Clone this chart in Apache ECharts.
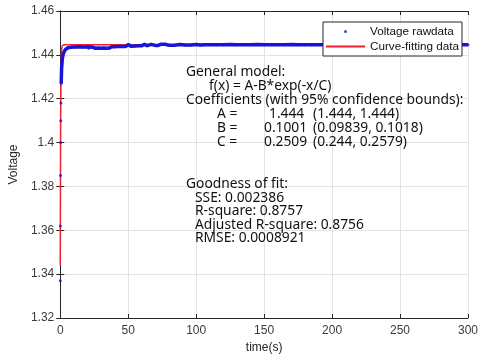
<!DOCTYPE html>
<html>
<head>
<meta charset="utf-8">
<script src="https://cdn.jsdelivr.net/npm/echarts@6/dist/echarts.min.js"></script>
<style>html,body{margin:0;padding:0;background:#fff}#c{width:481px;height:359px}</style>
</head>
<body>
<div id="c"></div>
<script>
// ---- data ----
const rawTime = [0, 0.1, 0.2, 0.3, 0.4, 0.5, 0.7, 1, 1.5, 2, 2.5, 3, 4, 5, 6, 8, 10, 12, 14, 16, 18, 20, 21, 22, 24, 25, 26, 28, 30, 32, 34, 36, 38, 40, 42, 45, 48, 50, 52, 55, 58, 60, 62, 64, 67, 70, 72, 74, 77, 80, 84, 88, 92, 96, 100, 103, 106, 110, 115, 120, 125, 130, 135, 140, 145, 150, 155, 160, 165, 170, 175, 180, 185, 190, 195, 200, 205, 210, 215, 220, 225, 230, 235, 240, 245, 250, 255, 260, 265, 270, 275, 280, 285, 290, 295, 300];
const rawVoltage = [1.3370, 1.3620, 1.3850, 1.4000, 1.4100, 1.4180, 1.4270, 1.4340, 1.4380, 1.4400, 1.4410, 1.4418, 1.4426, 1.4430, 1.4433, 1.4435, 1.4436, 1.4436, 1.4437, 1.4436, 1.4436, 1.4437, 1.4430, 1.4436, 1.4435, 1.4431, 1.4430, 1.4431, 1.4430, 1.4431, 1.4430, 1.4431, 1.4437, 1.4437, 1.4438, 1.4438, 1.4438, 1.4447, 1.4439, 1.4440, 1.4441, 1.4442, 1.4448, 1.4442, 1.4448, 1.4443, 1.4443, 1.4448, 1.4448, 1.4444, 1.4444, 1.4447, 1.4445, 1.4445, 1.4447, 1.4445, 1.4446, 1.4446, 1.4446, 1.4446, 1.4447, 1.4446, 1.4446, 1.4446, 1.4447, 1.4446, 1.4446, 1.4446, 1.4446, 1.4447, 1.4446, 1.4446, 1.4446, 1.4446, 1.4446, 1.4447, 1.4446, 1.4446, 1.4446, 1.4446, 1.4446, 1.4446, 1.4447, 1.4446, 1.4446, 1.4446, 1.4446, 1.4446, 1.4446, 1.4447, 1.4446, 1.4446, 1.4446, 1.4446, 1.4446, 1.4446];
const fitTime = [0, 0.25, 0.5, 0.75, 1, 1.5, 2, 3, 300];
const fitVoltage = [1.3440, 1.4075, 1.4308, 1.4394, 1.4425, 1.4442, 1.4446, 1.4446, 1.4446];
const xTicks = [0, 50, 100, 150, 200, 250, 300];
const yTicks = [1.32, 1.34, 1.36, 1.38, 1.40, 1.42, 1.44, 1.46];
const seriesNames = ['Voltage rawdata', 'Curve-fitting data'];
const modelLines = ['General model:', 'f(x) = A-B*exp(-x/C)', 'Coefficients (with 95% confidence bounds):'];
const coefNames = ['A =', 'B =', 'C ='];
const coefValues = ['1.444', '0.1001', '0.2509'];
const coefBounds = ['(1.444, 1.444)', '(0.09839, 0.1018)', '(0.244, 0.2579)'];
const fitLines = ['Goodness of fit:', 'SSE: 0.002386', 'R-square: 0.8757', 'Adjusted R-square: 0.8756', 'RMSE: 0.0008921'];
// -------------------------------------

const rawPairs = rawTime.map((t, i) => [t, rawVoltage[i]]);
const bandStartIndex = rawTime.indexOf(0.7);
const bandPairs = rawPairs.slice(bandStartIndex);
const fitPairs = fitTime.map((t, i) => [t, fitVoltage[i]]);

const AX = '#262626';
const FONT = '"Noto Sans", "Open Sans", sans-serif';
const txt = (text, x, y) => ({
  type: 'text', left: x, top: y - 10, silent: true, z: 20,
  style: { text: text, fill: '#111', font: '13.8px ' + FONT }
});
const graphics = [];
graphics.push(txt(modelLines[0], 186, 75));
graphics.push(txt(modelLines[1], 209, 89));
graphics.push(txt(modelLines[2], 186, 103));
const coefY = [117, 131, 145];
const valX = [269, 264, 264];
for (let i = 0; i < 3; i++) {
  graphics.push(txt(coefNames[i], 217, coefY[i]));
  graphics.push(txt(coefValues[i], valX[i], coefY[i]));
  graphics.push(txt(coefBounds[i], 313, coefY[i]));
}
const gY = [187, 201, 214, 228, 241];
fitLines.forEach((s, i) => graphics.push(txt(s, i === 0 ? 186 : 195, gY[i])));

const fmtY = v => parseFloat(Number(v).toFixed(2)).toString();
const tickCommon = { show: true, inside: true, length: 4, lineStyle: { color: AX } };

const chart = echarts.init(document.getElementById('c'), null, { renderer: 'canvas' });
chart.setOption({
  animation: false,
  backgroundColor: '#fff',
  grid: { left: 57, top: 11, right: 9, bottom: 40, containLabel: false },
  legend: {
    orient: 'vertical', left: 323, top: 22, z: 30, zlevel: 0,
    backgroundColor: '#fff', borderColor: AX, borderWidth: 1,
    padding: [3, 3, 3, 2], itemGap: 2, itemWidth: 39, itemHeight: 3,
    textStyle: { fontFamily: '"Liberation Sans", Arial, sans-serif', fontSize: 11.7, color: '#111', lineHeight: 13 },
    data: [{ name: seriesNames[0], icon: 'circle' }, { name: seriesNames[1], itemStyle: { opacity: 0 } }]
  },
  xAxis: [{
    type: 'value', min: xTicks[0], max: xTicks[xTicks.length - 1], interval: xTicks[1] - xTicks[0],
    name: 'time(s)', nameLocation: 'middle', nameGap: 24,
    nameTextStyle: { fontFamily: '"Liberation Sans", Arial, sans-serif', fontSize: 12, color: '#262626' },
    axisLine: { show: true, lineStyle: { color: AX } }, axisTick: tickCommon,
    axisLabel: { margin: 7, fontFamily: '"Liberation Sans", Arial, sans-serif', fontSize: 12, color: '#3a3a3a' },
    splitLine: { show: true, lineStyle: { color: '#e3e3e3', width: 1 } }
  }, {
    type: 'value', position: 'top', min: xTicks[0], max: xTicks[xTicks.length - 1], interval: xTicks[1] - xTicks[0],
    axisLine: { show: true, lineStyle: { color: AX } }, axisTick: tickCommon,
    axisLabel: { show: false }, splitLine: { show: false }
  }],
  yAxis: [{
    type: 'value', min: yTicks[0], max: yTicks[yTicks.length - 1], interval: 0.02,
    name: 'Voltage', nameLocation: 'middle', nameGap: 39, nameRotate: 90,
    nameTextStyle: { fontFamily: '"Liberation Sans", Arial, sans-serif', fontSize: 12, color: '#262626' },
    axisLine: { show: true, lineStyle: { color: AX } }, axisTick: tickCommon,
    axisLabel: { margin: 6, formatter: fmtY, fontFamily: '"Liberation Sans", Arial, sans-serif', fontSize: 12, color: '#3a3a3a' },
    splitLine: { show: true, lineStyle: { color: '#e3e3e3', width: 1 } }
  }, {
    type: 'value', position: 'right', min: yTicks[0], max: yTicks[yTicks.length - 1], interval: 0.02,
    axisLine: { show: true, lineStyle: { color: AX } }, axisTick: tickCommon,
    axisLabel: { show: false }, splitLine: { show: false }
  }],
  series: [
    {
      name: seriesNames[0], type: 'scatter', data: rawPairs, symbol: 'circle', symbolSize: 3,
      itemStyle: { color: '#1a14d8' }, z: 4
    },
    {
      name: seriesNames[1], type: 'line', data: fitPairs, symbol: 'none',
      lineStyle: { color: '#f0202a', width: 1.5 }, itemStyle: { color: '#f0202a' }, z: 3
    },
    {
      name: seriesNames[0], type: 'line', data: bandPairs, symbol: 'none',
      lineStyle: { color: '#1a14d8', width: 3.5 }, itemStyle: { color: '#1a14d8' }, z: 5
    }
  ],
  graphic: graphics
});
</script>
</body>
</html>
